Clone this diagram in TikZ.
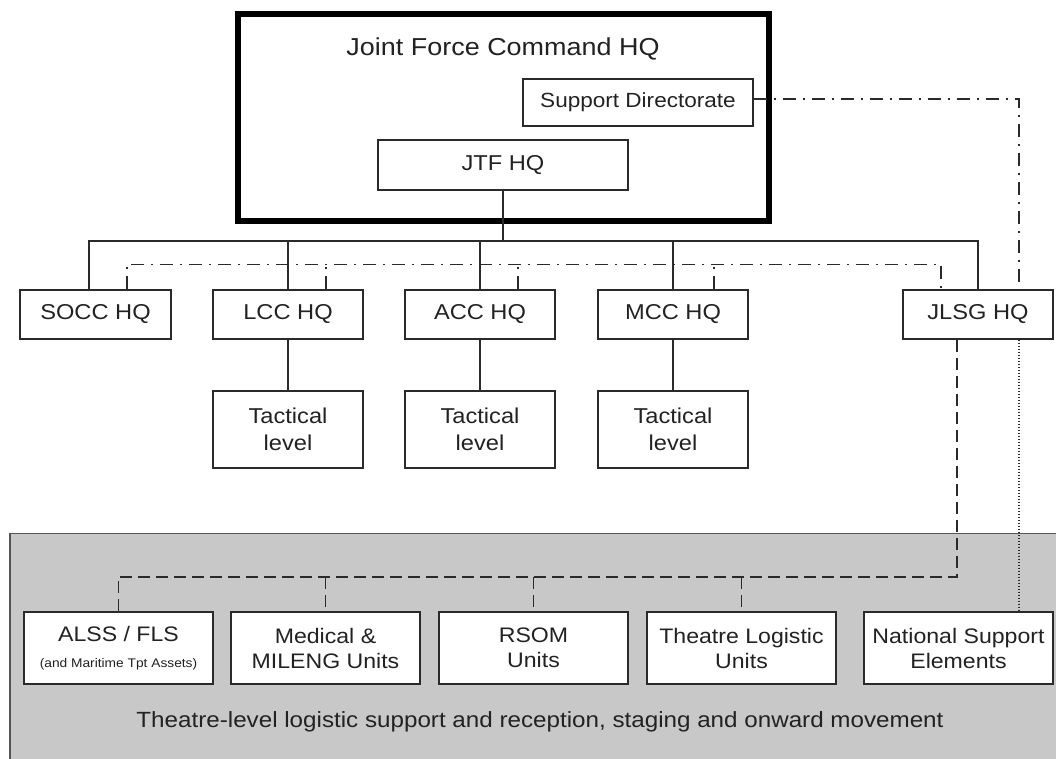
\documentclass[tikz,border=0pt]{standalone}
\usepackage{fontspec}
\setmainfont{Liberation Sans}[FakeStretch=1.1]

\definecolor{txt}{HTML}{222222}
\definecolor{ink}{HTML}{2A2A2A}
\definecolor{panel}{HTML}{C8C8C8}

\tikzset{
  unit/.style={draw=ink, line width=1.3pt, fill=white, text=txt, align=center,
    inner sep=0pt, font=\fontsize{21.5}{27}\selectfont},
  hq/.style={unit, minimum width=150pt, minimum height=49pt},
  tac/.style={unit, minimum width=150pt, minimum height=77pt},
  lsu/.style={unit, minimum width=189pt, minimum height=72pt, font=\fontsize{21}{25}\selectfont},
  link/.style={draw=ink, line width=1.3pt},
  ctrl/.style={draw=ink, line width=1.3pt, dash pattern=on 13pt off 7pt on 2pt off 7pt},
  supl/.style={draw=ink, line width=1.3pt, dash pattern=on 12pt off 6pt},
  natl/.style={draw=ink, line width=1.3pt, dash pattern=on 1.5pt off 1.5pt}
}

\begin{document}
\begin{tikzpicture}[x=1pt, y=-1pt]
  \useasboundingbox (0,0) rectangle (1056,758);

  % theatre level panel
  \draw [fill=panel, draw=ink!80, line width=1.2pt] (10,533.5) rectangle (1064,766);
  \node (theatre) [text=txt, font=\fontsize{22}{26}\selectfont] at (540,722)
    {Theatre-level logistic support and reception, staging and onward movement};

  % joint force command
  \draw [draw=black, line width=6.5pt] (238,14) rectangle (769,221);
  \node (jfc) [text=txt, font=\fontsize{24.5}{28}\selectfont] at (503,49) {Joint Force Command HQ};
  \node (sd) [unit, minimum width=230pt, minimum height=47pt, font=\fontsize{20.5}{24}\selectfont] at (638,102.5) {Support Directorate};
  \node (jtf) [unit, minimum width=250pt, minimum height=50pt] at (503,165) {JTF HQ};

  % component HQs
  \node (socc) [hq, minimum width=151pt] at (95.5,314.5) {SOCC HQ};
  \node (lcc)  [hq] at (288,314.5) {LCC HQ};
  \node (acc)  [hq] at (480,314.5) {ACC HQ};
  \node (mcc)  [hq] at (673,314.5) {MCC HQ};
  \node (jlsg) [hq] at (978,314.5) {JLSG HQ};

  \node (tlcc) [tac] at (288,429.5) {Tactical\\level};
  \node (tacc) [tac] at (480,429.5) {Tactical\\level};
  \node (tmcc) [tac] at (673,429.5) {Tactical\\level};

  % logistic units
  \node (alss) [lsu] at (118.5,648) {ALSS / FLS\\[1pt]{\fontsize{12.5}{15}\selectfont (and Maritime Tpt Assets)}};
  \node (med)  [lsu] at (325.5,648) {Medical \&\\MILENG Units};
  \node (rsom) [lsu] at (533.5,648) {RSOM\\Units};
  \node (tlu)  [lsu] at (741.5,648) {Theatre Logistic\\Units};
  \node (nse)  [lsu] at (958.5,648) {National Support\\Elements};

  % command lines
  \coordinate (hbus) at (503,241);
  \draw [link] (jtf.south) -- (hbus);
  \draw [link] ([xshift=-6.5pt]socc.north) |- (hbus) -| (jlsg.north);
  \foreach \n in {lcc,acc,mcc}
    \draw [link] (\n.north) -- (\n.north |- hbus);
  \draw [link] (lcc.south) -- (tlcc.north);
  \draw [link] (acc.south) -- (tacc.north);
  \draw [link] (mcc.south) -- (tmcc.north);

  % coordination
  \draw [ctrl] ([xshift=31.5pt]socc.north) -- ++(0,-25) -| ([xshift=-37pt]jlsg.north);
  \foreach \n/\dx in {lcc/38,acc/38,mcc/41}
    \draw [ctrl] ([xshift=\dx pt]\n.north) -- ++(0,-25);
  \draw [ctrl] ([yshift=3.5pt]sd.east) -| ([xshift=41pt]jlsg.north);

  % support lines
  \coordinate (lbus) at (0,577);
  \draw [supl] ([xshift=-21pt]jlsg.south) |- (alss.north |- lbus) -- (alss.north);
  \foreach \n in {med,rsom,tlu}
    \draw [supl] (\n.north |- lbus) -- (\n.north);
  \draw [natl] ([xshift=41pt]jlsg.south) -- ([xshift=60.5pt]nse.north);
\end{tikzpicture}
\end{document}
